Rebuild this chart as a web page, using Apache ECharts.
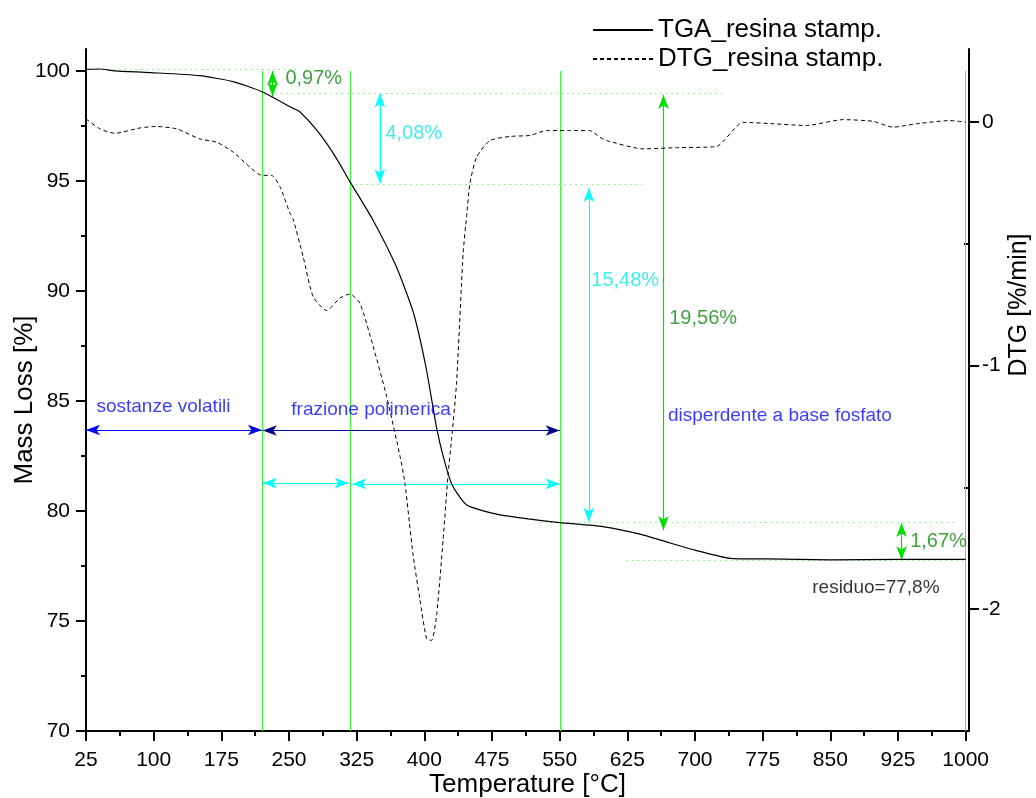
<!DOCTYPE html>
<html>
<head>
<meta charset="utf-8">
<script src="https://cdn.jsdelivr.net/npm/echarts@6/dist/echarts.min.js"></script>
<style>html,body{margin:0;padding:0;background:#fff}#c{width:1036px;height:798px}</style>
</head>
<body>
<div id="c"></div>
<script>
// ---- data ----
const tgaT = [25, 40, 57, 96, 151, 188, 220, 254.7, 262, 280.6, 300, 317.5, 343, 369, 388, 402, 413.5, 421, 430, 439, 447, 461.5, 484, 515, 550, 598, 639, 668, 700, 738.5, 780, 850, 925, 1000];
const tgaV = [100.07, 100.09, 100.01, 99.93, 99.79, 99.52, 99.06, 98.30, 98.15, 97.32, 96.2, 94.97, 93.23, 91.1, 89.0, 86.5, 83.8, 82.47, 81.26, 80.65, 80.27, 80.05, 79.82, 79.64, 79.47, 79.29, 78.95, 78.6, 78.22, 77.85, 77.82, 77.78, 77.8, 77.8];
const dtgT = [25, 40.5, 57, 85, 103, 125.5, 151, 170, 188, 206.7, 219.7, 230.7, 240, 251, 254.7, 265.7, 276.8, 291.7, 306.4, 317.5, 328.6, 343.3, 358.2, 373, 378.4, 387.6, 395, 402.5, 408, 413.6, 420.9, 426.4, 430.2, 435.7, 443, 446.8, 450.5, 457.9, 472.6, 494.8, 517, 535.4, 561.2, 583.4, 594.5, 602, 642.5, 679.5, 723.8, 753.3, 786.5, 823.5, 864, 897.3, 919.4, 945.4, 982.3, 1000];
const dtgV = [0.013, -0.028, -0.046, -0.024, -0.018, -0.028, -0.069, -0.083, -0.123, -0.185, -0.219, -0.219, -0.265, -0.374, -0.40, -0.553, -0.717, -0.774, -0.723, -0.706, -0.744, -0.921, -1.126, -1.371, -1.48, -1.78, -1.957, -2.121, -2.128, -2.025, -1.712, -1.441, -1.303, -1.071, -0.539, -0.389, -0.253, -0.144, -0.076, -0.059, -0.055, -0.035, -0.035, -0.035, -0.062, -0.076, -0.110, -0.105, -0.100, -0.001, -0.007, -0.014, 0.010, 0.003, -0.021, -0.007, 0.006, 0.0];

const xTicks = [25, 100, 175, 250, 325, 400, 475, 550, 625, 700, 775, 850, 925, 1000];
const xMinor = [62.5, 137.5, 212.5, 287.5, 362.5, 437.5, 512.5, 587.5, 662.5, 737.5, 812.5, 887.5, 962.5];
const yTicks = [70, 75, 80, 85, 90, 95, 100];
const yMinor = [72.5, 77.5, 82.5, 87.5, 92.5, 97.5];
const dtgTicks = [-2, -1, 0];
const dtgMinor = [-1.5, -0.5];

// annotations (data coordinates)
const stageT = [220, 317.5, 550.2, 1000];                 // vertical boundaries
const guideLines = [[25, 262, 100.1], [235, 730, 98.98], [317.5, 642, 94.86], [528, 991, 79.47], [624, 1000, 77.78]];
const stepArrows = [[231.8, 100.0, 98.85], [350.7, 98.98, 94.9], [582.3, 94.68, 79.51], [665, 98.91, 79.14], [929, 79.45, 77.77]];
const stepLabels = ['0,97%', '4,08%', '15,48%', '19,56%', '1,67%'];
const stepLabelPos = [[245.5, 99.68], [356.3, 97.18], [584.5, 90.5], [670.9, 88.73], [937.9, 78.6]];
const rangeArrows = [[25, 220, 83.68], [221, 550, 83.66], [553, 1015, 83.53], [221, 316, 81.27], [320, 550, 81.23]];
const rangeLabels = ['sostanze volatili', 'frazione polimerica', 'disperdente a base fosfato'];
const rangeLabelPos = [[36, 84.73], [252, 84.59], [669.5, 84.35]];
const residueLabel = 'residuo=77,8%';
const residuePos = [829.4, 76.5];

// ---- styles ----
const FONT = 'Liberation Sans, Arial, sans-serif';
const stepColors = ['#00e000', '#00ffff', '#00ffff', '#00dd00', '#00e000'];
const stepTextColors = ['#118811', '#11e8e8', '#11e8e8', '#118811', '#118811'];
const rangeColors = ['#0000ff', '#00008c', '#2a3cff', '#00ffff', '#00ffff'];

const X0 = 25, X1 = 1003.7, Y0 = 70, Y1 = 101, D0 = -2.5, D1 = 0.3;

const ml = [];
stageT.forEach(t => ml.push([{coord: [t, 100], symbol: 'none', lineStyle: {color: '#33ff33', width: 1, type: 'solid'}}, {coord: [t, 70], symbol: 'none'}]));
guideLines.forEach(g => ml.push([{coord: [g[0], g[2]], symbol: 'none', lineStyle: {color: '#66ff66', width: 1, type: [1.5, 4]}}, {coord: [g[1], g[2]], symbol: 'none'}]));
stepArrows.forEach((a, i) => ml.push([{coord: [a[0], a[1]], symbol: 'arrow', symbolSize: [8, 14], lineStyle: {color: stepColors[i], width: 1.2, type: 'solid'}}, {coord: [a[0], a[2]], symbol: 'arrow', symbolSize: [8, 14]}]));
rangeArrows.forEach((a, i) => ml.push([{coord: [a[0], a[2]], symbol: 'arrow', symbolSize: [8, 14], lineStyle: {color: rangeColors[i], width: 1.2, type: 'solid'}}, {coord: [a[1], a[2]], symbol: 'arrow', symbolSize: [8, 14]}]));

const texts = [];
stepLabels.forEach((s, i) => texts.push({name: s, value: stepLabelPos[i], label: {color: stepTextColors[i], fontSize: 20}}));
rangeLabels.forEach((s, i) => texts.push({name: s, value: rangeLabelPos[i], label: {color: '#0a0aff', fontSize: 19}}));
texts.push({name: residueLabel, value: residuePos, label: {color: '#000', fontSize: 19}});

const chart = echarts.init(document.getElementById('c'), null, {renderer: 'canvas'});
const axLine = () => ({show: true, onZero: false, lineStyle: {color: '#000', width: 2}});
const noLine = () => ({show: false, onZero: false});
const fmt = v => String(v);
const option = {
  animation: false,
  textStyle: {fontFamily: FONT},
  grid: {left: 86, right: 67, top: 49, bottom: 67, containLabel: false, outerBoundsMode: 'none'},
  legend: {
    orient: 'vertical', left: 587, top: 12, itemWidth: 60, itemHeight: 10, itemGap: 3,
    itemStyle: {opacity: 0},
    textStyle: {fontSize: 26, color: '#000', fontFamily: FONT},
    data: ['TGA_resina stamp.', 'DTG_resina stamp.']
  },
  xAxis: [
    {type: 'value', min: X0, max: X1, position: 'bottom', axisLine: axLine(),
     axisTick: {customValues: xTicks, length: 10, lineStyle: {color: '#000', width: 2}},
     axisLabel: {customValues: xTicks, formatter: fmt, fontSize: 21, color: '#000', margin: 19, fontFamily: FONT},
     splitLine: {show: false},
     name: 'Temperature [°C]', nameLocation: 'middle', nameGap: 41, nameMoveOverlap: false,
     nameTextStyle: {fontSize: 26, color: '#000', fontFamily: FONT}},
    {type: 'value', min: X0, max: X1, position: 'bottom', axisLine: noLine(),
     axisTick: {customValues: xMinor, length: 5, lineStyle: {color: '#000', width: 2}},
     axisLabel: {show: false}, splitLine: {show: false}}
  ],
  yAxis: [
    {type: 'value', min: Y0, max: Y1, position: 'left', axisLine: axLine(),
     axisTick: {customValues: yTicks, length: 10, lineStyle: {color: '#000', width: 2}},
     axisLabel: {customValues: yTicks, formatter: fmt, fontSize: 21, color: '#000', margin: 16, fontFamily: FONT},
     splitLine: {show: false},
     name: 'Mass Loss [%]', nameLocation: 'middle', nameGap: 48, nameMoveOverlap: false,
     nameTextStyle: {fontSize: 26, color: '#000', fontFamily: FONT, padding: [0, 20, 0, 0]}},
    {type: 'value', min: D0, max: D1, position: 'right', axisLine: axLine(),
     axisTick: {show: true, customValues: dtgTicks, length: 10, lineStyle: {color: '#000', width: 2}},
     axisLabel: {customValues: dtgTicks, formatter: fmt, fontSize: 21, color: '#000', margin: 13, fontFamily: FONT},
     splitLine: {show: false},
     name: 'DTG [%/min]', nameLocation: 'middle', nameGap: 38, nameMoveOverlap: false,
     nameTextStyle: {fontSize: 25, color: '#000', fontFamily: FONT, padding: [0, 0, 0, 170]}},
    {type: 'value', min: Y0, max: Y1, position: 'left', axisLine: noLine(),
     axisTick: {customValues: yMinor, length: 5, lineStyle: {color: '#000', width: 2}},
     axisLabel: {show: false}, splitLine: {show: false}},
    {type: 'value', min: D0, max: D1, position: 'right', axisLine: noLine(),
     axisTick: {customValues: dtgMinor, length: 5, inside: true, lineStyle: {color: '#000', width: 2}},
     axisLabel: {show: false}, splitLine: {show: false}}
  ],
  series: [
    {name: 'TGA_resina stamp.', type: 'line', xAxisIndex: 0, yAxisIndex: 0, symbol: 'none',
     smooth: 0.2,
     lineStyle: {color: '#000', width: 1.2}, itemStyle: {color: '#000'},
     data: tgaT.map((t, i) => [t, tgaV[i]]), z: 5},
    {name: 'DTG_resina stamp.', type: 'line', xAxisIndex: 0, yAxisIndex: 1, symbol: 'none',
     smooth: 0.2,
     lineStyle: {color: '#000', width: 1, type: [4, 3]}, itemStyle: {color: '#000'},
     data: dtgT.map((t, i) => [t, dtgV[i]]), z: 5},
    {name: 'ann', type: 'line', xAxisIndex: 0, yAxisIndex: 0, data: [], clip: false, silent: true,
     markLine: {silent: true, animation: false, label: {show: false}, emphasis: {disabled: true},
       symbol: ['none', 'none'], precision: 4, data: ml}, z: 3},
    {name: 'txt', type: 'scatter', xAxisIndex: 0, yAxisIndex: 0, symbolSize: 1, silent: true, clip: false,
     itemStyle: {color: 'rgba(0,0,0,0)'},
     label: {show: true, position: 'right', distance: 0, formatter: '{b}', fontFamily: FONT},
     data: texts, z: 6}
  ]
};
chart.setOption(option);
</script>
</body>
</html>
